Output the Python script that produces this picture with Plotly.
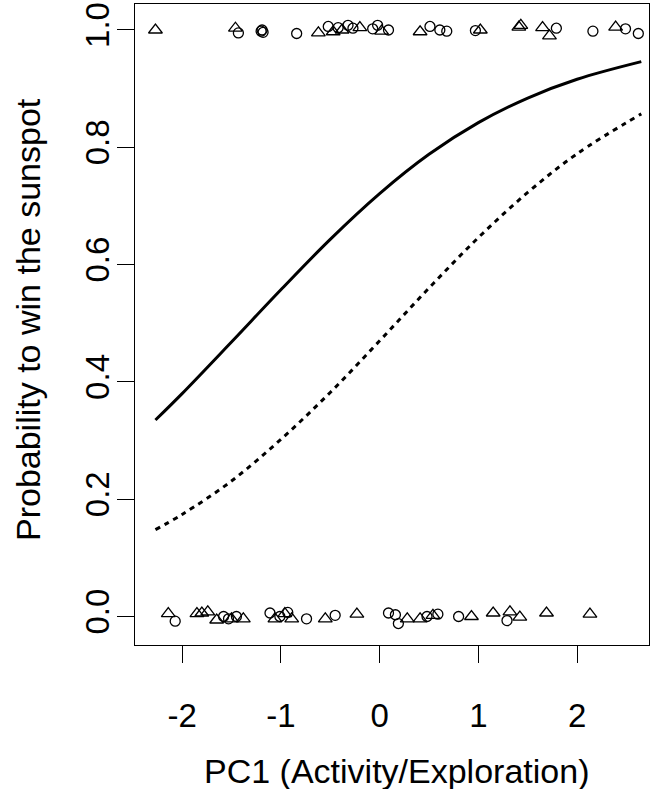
import plotly.graph_objects as go

# Fitted probability curves
curve_x = [-2.27, -2.0, -1.5, -1.0, -0.5, 0.0, 0.5, 1.0, 1.5, 2.0, 2.65]
solid_y = [0.335, 0.380, 0.468, 0.557, 0.643, 0.721, 0.788, 0.842, 0.884, 0.916, 0.946]
dotted_y = [0.148, 0.174, 0.231, 0.302, 0.382, 0.470, 0.560, 0.646, 0.723, 0.789, 0.857]

# Observed outcomes (winners near 1, losers near 0), jittered
top_circle_x = [-1.43, -1.20, -1.19, -1.18, -0.84, -0.52, -0.42, -0.32, -0.27, -0.07,
                -0.02, 0.09, 0.51, 0.61, 0.68, 0.97, 1.79, 2.16, 2.49, 2.62]
top_circle_y = [0.995, 0.998, 1.0, 0.996, 0.994, 1.006, 1.004, 1.008, 1.003, 1.002,
                1.008, 1.0, 1.006, 1.0, 0.998, 0.999, 1.003, 0.998, 1.002, 0.994]
top_tri_x = [-2.27, -1.46, -0.62, -0.47, -0.38, -0.20, 0.02, 0.41, 1.02, 1.41, 1.43,
             1.65, 1.72, 2.39]
top_tri_y = [1.0, 1.003, 0.995, 0.997, 1.0, 1.004, 0.998, 0.997, 1.0, 1.005, 1.008,
             1.004, 0.99, 1.005]

bottom_circle_x = [-2.07, -1.58, -1.53, -1.45, -1.11, -1.01, -0.93, -0.74, -0.45, 0.09,
                   0.16, 0.19, 0.48, 0.59, 0.80, 1.29]
bottom_circle_y = [-0.008, 0.0, -0.004, 0.0, 0.006, 0.0, 0.007, -0.004, 0.002, 0.006,
                   0.003, -0.012, 0.0, 0.004, 0.0, -0.007]
bottom_tri_x = [-2.14, -1.85, -1.80, -1.74, -1.65, -1.50, -1.38, -1.06, -0.96, -0.89,
                -0.55, -0.23, 0.28, 0.41, 0.54, 0.93, 1.15, 1.32, 1.42, 1.69, 2.13]
bottom_tri_y = [0.005, 0.005, 0.006, 0.008, -0.006, -0.004, -0.004, -0.004, 0.005, -0.004,
                -0.004, 0.004, -0.004, -0.004, 0.002, 0.0, 0.006, 0.008, -0.001, 0.006, 0.004]

x_ticks = [-2, -1, 0, 1, 2]
x_ticktext = ["-2", "-1", "0", "1", "2"]
y_ticks = [0.0, 0.2, 0.4, 0.6, 0.8, 1.0]
y_ticktext = ["0.0", "0.2", "0.4", "0.6", "0.8", "1.0"]
x_title = "PC1 (Activity/Exploration)"
y_title = "Probability to win the sunspot"

FONT = "Liberation Sans, Arial, sans-serif"

fig = go.Figure()

circle_marker = dict(symbol="circle-open", size=10, color="black", line=dict(width=1.3, color="black"))
tri_marker = dict(symbol="triangle-up-open", size=12, color="black", line=dict(width=1.3, color="black"))

fig.add_trace(go.Scatter(x=top_circle_x + bottom_circle_x, y=top_circle_y + bottom_circle_y,
                         mode="markers", marker=circle_marker, showlegend=False))
fig.add_trace(go.Scatter(x=top_tri_x + bottom_tri_x, y=top_tri_y + bottom_tri_y,
                         mode="markers", marker=tri_marker, showlegend=False))
fig.add_trace(go.Scatter(x=curve_x, y=solid_y, mode="lines", line_shape="spline",
                         line=dict(color="black", width=3), showlegend=False))
fig.add_trace(go.Scatter(x=curve_x, y=dotted_y, mode="lines", line_shape="spline",
                         line=dict(color="black", width=3, dash="5px,5px"), showlegend=False))

fig.update_layout(
    width=660, height=789,
    margin=dict(l=135, r=11, t=4, b=144, autoexpand=False),
    paper_bgcolor="white", plot_bgcolor="white",
    font=dict(family=FONT, size=33, color="black"),
    annotations=[
        dict(text=x_title, xref="paper", yref="paper", x=0.509, y=0, xanchor="center",
             yanchor="middle", yshift=-126, showarrow=False, font=dict(size=34)),
        dict(text=y_title, xref="paper", yref="paper", x=0, y=0.507, xanchor="center",
             yanchor="middle", xshift=-107, textangle=-90, showarrow=False,
             font=dict(size=34)),
    ],
)
fig.update_xaxes(
    range=[-2.477, 2.728], tickvals=x_ticks, ticktext=x_ticktext, automargin=False,
    showgrid=False, zeroline=False, showline=True, mirror=True,
    linecolor="black", linewidth=1.3, ticks="outside", ticklen=17, tickwidth=1.3,
    tickcolor="black", ticklabelstandoff=24,
)
fig.update_yaxes(
    range=[-0.0486, 1.0443], tickvals=y_ticks, ticktext=y_ticktext, tickangle=-90,
    automargin=False,
    showgrid=False, zeroline=False, showline=True, mirror=True,
    linecolor="black", linewidth=1.3, ticks="outside", ticklen=17, tickwidth=1.3,
    tickcolor="black", ticklabelstandoff=-5,
)

fig.write_html(
    "out.html",
    config={"displayModeBar": False},
    post_script="document.body.style.margin='0';document.body.style.padding='0';",
)
